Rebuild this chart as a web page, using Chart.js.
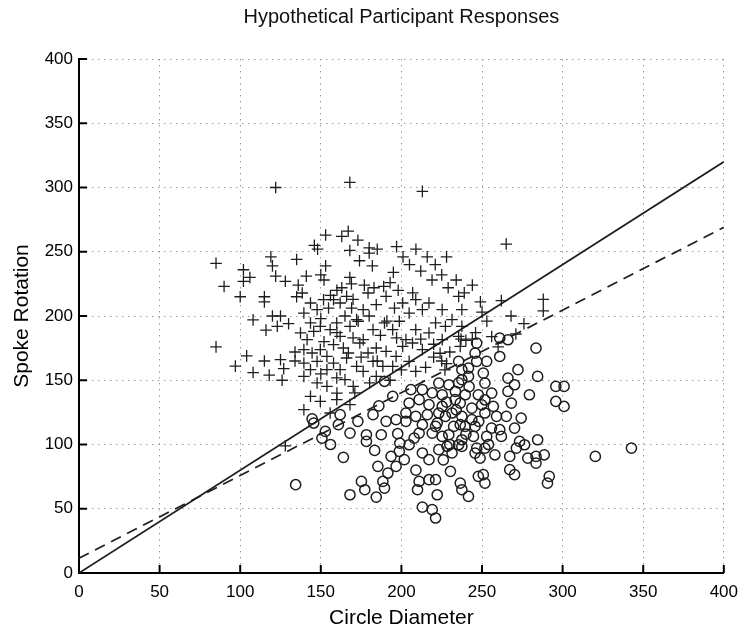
<!DOCTYPE html>
<html lang="en">
<head>
    <meta charset="UTF-8">
    <title>Hypothetical Participant Responses</title>
    <script src="https://cdn.jsdelivr.net/npm/chart.js"></script>
    <style>
        body { margin: 0; background: #fff; }
        #wrap { width: 747px; height: 632px; }
    </style>
</head>
<body>
    <div id="wrap">
        <canvas id="myChart" width="747" height="632"></canvas>
    </div>
    <script>
        // values (x = circle diameter, y = spoke rotation)
        const tickValues = [0, 50, 100, 150, 200, 250, 300, 350, 400];

        const crossPts = [
            [85,241],[85,176],[90,223],[97,161],[100,215],[102,236],[102,227],[104,169],[106,230],
            [108,197],[108,156],[115,215],[115,211],[115,165],[116,189],[118,154],[119,246],[120,239],
            [120,200],[122,231],[122,300],[123,192],[125,200],[125,166],[126,150],[127,159],[128,227],[128,99],
            [130,194],[134,172],[134,165],[135,215],[135,244],[136,224],
            [141,231],[146,255],[148,252],[150,232],[152,228],[153,239],[153,263],[156,216],[163,262],[163,222],
            [167,266],[168,251],[168,230],[168,304],[169,225],[173,259],[174,243],[177,224],[180,253],[180,249],
            [182,239],[185,252],[189,223],[193,226],[195,234],
            [138.5,217.9],[143.6,210.1],[139.5,202.3],[143.6,194.6],[147.7,205],[151.7,212.7],[154.8,206.2],
            [157.9,212.7],[162,210.1],[166,215.3],[169.1,206.2],[172.2,197.2],[176.3,204.9],[179.3,217.9],
            [184.4,208.8],[190.5,215.3],[195.7,206.2],[200.8,210.1],[204.8,202.3],[208.9,212.7],[213,205],
            [217.1,210.1],[225.3,205],[231.4,197.2],[235.5,215.3],[237.5,205],
            [137.4,186.8],[141.5,181.6],[145.6,188.1],[149.7,192],[155.8,189.4],[159.9,194.6],[162,184.2],
            [168.1,192],[173.2,195.9],[176.3,181.6],[182.4,189.4],[189.5,194.6],[191,196],[194.6,189.4],
            [198.7,195.9],[202.8,181.6],[208.9,189.4],[217.1,186.8],[221.2,194.6],[227.3,192],[237.5,192],
            [139.5,173.8],[144.6,171.2],[149.7,173.8],[153.8,168.6],[157.9,177.7],[164,175.1],[167.1,171.2],
            [174.2,179],[179.3,171.2],[184.4,175.1],[190.5,172.5],[196.7,168.6],[200.8,176.4],[206.9,179],
            [213,173.8],[225.3,181.6],[235.5,184.2],[236.5,176.4],
            [139.5,163.4],[143.6,158.2],[147.7,164.7],[153.8,158.2],[157.9,163.4],[162,158.2],[166,167.3],
            [172.2,160.8],[176.3,156.9],[182.4,164.7],[188.5,160.8],[194.6,160.8],[204.8,164.7],[208.9,156.9],
            [139.5,153],[147.7,147.9],[153.8,145.3],[159.9,151.8],[165,150.5],[170.1,145.3],[180.3,147.9],
            [184.4,153],[143.6,137.5],[149.7,133.6],[159.9,134.9],[168.1,131],[171.1,140.1],[139.5,127.1],
            [155.8,124.5],
            [197,254],[201,246],[205,240],[209,252],[213,297],[212,235],[216,246],[219,228],[221,240],
            [225,232],[229,222],[234,228],[239,218],[244,224],[249,211],[228,246],
            [246,187],[250,203],[253,196],[256,184],[260,176],[265,256],[268,200],[271,186],[276,194],
            [262,212],[288,213],[288,204],[240,181],[237,182],[244,182],[225,165],[228,163],[227,158],[224,171],
            [160,220],[170,213],[183,222],[198,220],[207,218],[150,198],[165,200],[180,200],[187,185],
            [197,183],[212,182],[220,178],[160,187],[170,183],[152,180],[185,165],[200,158],[215,160],
            [220,168],[230,172],[175,168],[193,150],[160,140],[150,155]
        ];

        const circlePts = [
            [145.6,116.7],[152.8,110.2],[150.7,105],[160.9,115.4],[168.1,108.9],[178.3,107.6],[178.3,102.4],
            [187.5,107.6],[183.4,95.4],[164,90],[197.7,108.4],[190.5,118],[202.8,118],[193.6,90.8],
            [198.7,94.7],[201.8,88.2],[196.7,83],[185.4,83],[191.6,77.8],[188.5,71.3],[175.2,71.3],
            [177.3,64.8],[168.1,60.9],[184.4,59.1],[189.5,66.1],[207.9,105],[204.8,99.8],[213,93.4],
            [217.1,88.2],[211,71.3],[210,64.8],[217.1,72.6],[221.2,72.6],[222.2,60.9],[213,51.3],
            [219.1,49.3],[221.2,42.8],[230.4,79.1],[236.5,70],[237.5,64.8],[223.2,96],[228.3,98.6],
            [229.4,107.6],[231.4,93.4],[235.5,99.8],[236.5,115.4],[213,115.4],[219.1,108.9],[211,108.9],
            [222.2,116.7],
            [246.7,178.9],[261,182.8],[266.1,181.5],[283.5,175],[261,168.5],[245.7,171.1],[235.5,164.7],
            [246.7,164.7],[252.9,164.7],[241.6,159.5],[250.8,155.6],[251.8,147.8],[272.3,158.2],
            [266.1,151.7],[270.2,146.5],[284.5,153],[295.8,145.2],[300.9,145.2],[279.4,138.7],
            [266.1,141.3],[268.2,132.2],[295.8,133.5],[300.9,129.6],[265.1,121.9],[274.3,120.6],
            [270.2,112.8],[273.3,102.4],[276.4,99.8],[284.5,103.7],[271.3,97.2],[267.2,90.7],[278.4,89.4],
            [283.5,90.7],[288.6,92],[283.5,85.5],[267.2,80.4],[270.2,76.5],[291.7,75.2],[290.6,69.9],
            [320.3,90.7],[342.7,97.2],[247.7,75.2],[250.8,76.5],[251.8,69.9],[241.6,59.6],
            [223.2,147.8],[229.4,146.5],[237.5,150.4],[241.6,153],[225.3,138.7],[233.5,141.3],[239.6,138.7],
            [247.7,138.7],[251.8,134.8],[257,129.6],[225.3,129.6],[236.5,132.2],[243.7,128.3],[249.8,130.9],
            [227.3,121.9],[237.5,121.9],[243.7,119.3],[251.8,124.5],[259,121.9],[221.2,114.1],[232.4,114.1],
            [239.6,114.1],[245.7,114.1],[255.9,112.8],[261,111.5],[225.3,106.3],[237.5,103.7],[244.7,106.3],
            [252.9,106.3],[262,106.3],[237.5,98.5],[246.7,97.2],[251.8,97.2],[245.7,93.3],[248.8,89.4],
            [162,123.2],[182.4,123.2],[189.5,149.2],[194.6,137.5],[196.7,119.3],[205.9,142.7],[213,142.7],
            [219.1,140.1],[237.5,158.2],[235.5,147.9],[204.8,132.3],[211,134.9],[217.1,131],[233.4,134.9],
            [202.8,124.5],[208.9,121.9],[216.1,123.2],[223.2,124.5],[231.4,124.5],
            [144.6,120],[134.4,68.7],
            [240,108],[234,127],[248,118],[256,140],[228,133],[242,145],[254,100],[258,92],[230,100],
            [226,88],[209,80],[199,101],[186,130],[173,118],[156,100]
        ];

        // the two reference lines
        const lineX = [0, 400];
        const solidY = [0, 320];
        const dashedY = [11.5, 269];

        const toXY = arr => arr.map(p => ({ x: p[0], y: p[1] }));
        const lineData = ys => lineX.map((x, i) => ({ x: x, y: ys[i] }));

        const font = "'Liberation Sans', Arial, Helvetica, sans-serif";
        const ink = '#1e1e1e';

        // matlab style ticks pointing into the plot
        const inwardTicks = {
            id: 'inwardTicks',
            afterDraw(chart) {
                const { ctx, chartArea, scales } = chart;
                ctx.save();
                ctx.strokeStyle = '#000';
                ctx.lineWidth = 2;
                tickValues.forEach(v => {
                    if (v === 0) return;
                    const px = scales.x.getPixelForValue(v);
                    ctx.beginPath();
                    ctx.moveTo(px, chartArea.bottom);
                    ctx.lineTo(px, chartArea.bottom - 8);
                    ctx.stroke();
                    const py = scales.y.getPixelForValue(v);
                    ctx.beginPath();
                    ctx.moveTo(chartArea.left, py);
                    ctx.lineTo(chartArea.left + 8, py);
                    ctx.stroke();
                });
                ctx.restore();
            }
        };

        const gridOpts = { color: '#9a9a9a', lineWidth: 1, drawTicks: false };
        const borderOpts = { display: true, color: '#000', width: 2, dash: [1.5, 4.5] };

        new Chart(document.getElementById('myChart'), {
            type: 'scatter',
            data: {
                datasets: [
                    {
                        label: 'solid',
                        type: 'line',
                        data: lineData(solidY),
                        borderColor: ink,
                        borderWidth: 1.7,
                        pointRadius: 0,
                        fill: false
                    },
                    {
                        label: 'dashed',
                        type: 'line',
                        data: lineData(dashedY),
                        borderColor: ink,
                        borderWidth: 1.7,
                        borderDash: [11, 7],
                        pointRadius: 0,
                        fill: false
                    },
                    {
                        label: 'plus',
                        data: toXY(crossPts),
                        pointStyle: 'cross',
                        pointRadius: 5.8,
                        borderWidth: 1.3,
                        borderColor: ink,
                        backgroundColor: ink
                    },
                    {
                        label: 'circle',
                        data: toXY(circlePts),
                        pointStyle: 'circle',
                        pointRadius: 5.1,
                        borderWidth: 1.5,
                        borderColor: ink,
                        backgroundColor: 'rgba(0,0,0,0)'
                    }
                ]
            },
            options: {
                responsive: false,
                animation: false,
                layout: { padding: { left: 0, right: 15, top: 0, bottom: 0 } },
                plugins: {
                    legend: { display: false },
                    tooltip: { enabled: false },
                    title: {
                        display: true,
                        text: 'Hypothetical Participant Responses',
                        fullSize: false,
                        color: '#111',
                        font: { family: font, size: 20, weight: 'normal' },
                        padding: { top: 5, bottom: 30 }
                    }
                },
                scales: {
                    x: {
                        type: 'linear',
                        min: 0,
                        max: 400,
                        afterFit: s => { s.height = 59; },
                        grid: gridOpts,
                        border: borderOpts,
                        ticks: {
                            stepSize: 50,
                            padding: 9,
                            color: '#000',
                            font: { family: font, size: 17 }
                        },
                        title: {
                            display: true,
                            text: 'Circle Diameter',
                            color: '#000',
                            font: { family: font, size: 21 },
                            padding: { top: 0, bottom: 1.4 }
                        }
                    },
                    y: {
                        type: 'linear',
                        min: 0,
                        max: 400,
                        afterFit: s => { s.width = 79; },
                        grid: gridOpts,
                        border: borderOpts,
                        ticks: {
                            stepSize: 50,
                            padding: 6,
                            color: '#000',
                            font: { family: font, size: 17 }
                        },
                        title: {
                            display: true,
                            text: 'Spoke Rotation',
                            color: '#000',
                            font: { family: font, size: 21 },
                            padding: { top: 9.4, bottom: 0 }
                        }
                    }
                }
            },
            plugins: [inwardTicks]
        });
    </script>
</body>
</html>
